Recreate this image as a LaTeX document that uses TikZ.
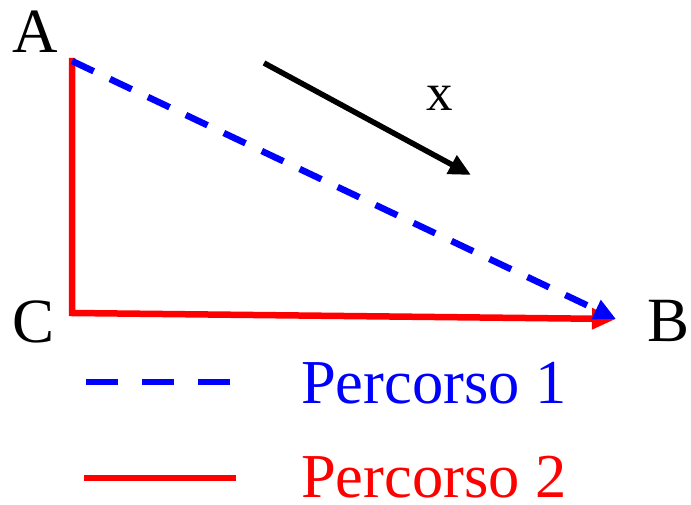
\documentclass[tikz,border=0pt]{standalone}
\usepackage{fontspec}
\setmainfont{Liberation Serif}
\usetikzlibrary{arrows.meta}
\definecolor{pblue}{RGB}{0,0,255}
\definecolor{pred}{RGB}{255,0,0}
\tikzset{
  lbl/.style={anchor=base, inner sep=0pt, font=\fontsize{63}{63}\selectfont},
  legtext/.style={anchor=base west, inner sep=0pt, font=\fontsize{62.5}{62.5}\selectfont},
  path1/.style={draw=pblue, line width=6.5pt, dash pattern=on 24pt off 18pt},
  path2/.style={draw=pred, line width=6.5pt},
}
\begin{document}
\begin{tikzpicture}[x=1pt,y=-1pt]
\useasboundingbox (0,0) rectangle (691,505);
\coordinate (pA) at (72,61);
\coordinate (pC) at (72,313);
\coordinate (pB) at (616,319);
\node[lbl] (A) at (35,53) {A};
\node[lbl] (C) at (34,342) {C};
\node[lbl, anchor=base west] (B) at (647,341) {B};
\node[anchor=base, inner sep=0pt, font=\fontsize{53}{53}\selectfont] (X) at (440,111) {x};
% paths
\draw[path2, -{Triangle[length=24pt,width=20pt]}] (72,58) -- (pC) -- (pB);
\draw[path1, -{Triangle[length=22pt,width=20pt]}] (pA) -- (pB);
\coordinate (x1) at (264,63);
\coordinate (x2) at (471,175);
\draw[black, line width=5.5pt, -{Triangle[length=22pt,width=20pt]}] (x1) -- (x2);
% legend
\coordinate (l1a) at (86,382);
\coordinate (l1b) at (232,382);
\draw[draw=pblue, line width=6.5pt, dash pattern=on 32pt off 24pt] (l1a) -- (l1b);
\node[legtext, text=pblue] (P1) at (301,403) {Percorso 1};
\coordinate (l2a) at (84,478);
\coordinate (l2b) at (236,478);
\draw[path2] (l2a) -- (l2b);
\node[legtext, text=pred] (P2) at (301,497) {Percorso 2};
\end{tikzpicture}
\end{document}
